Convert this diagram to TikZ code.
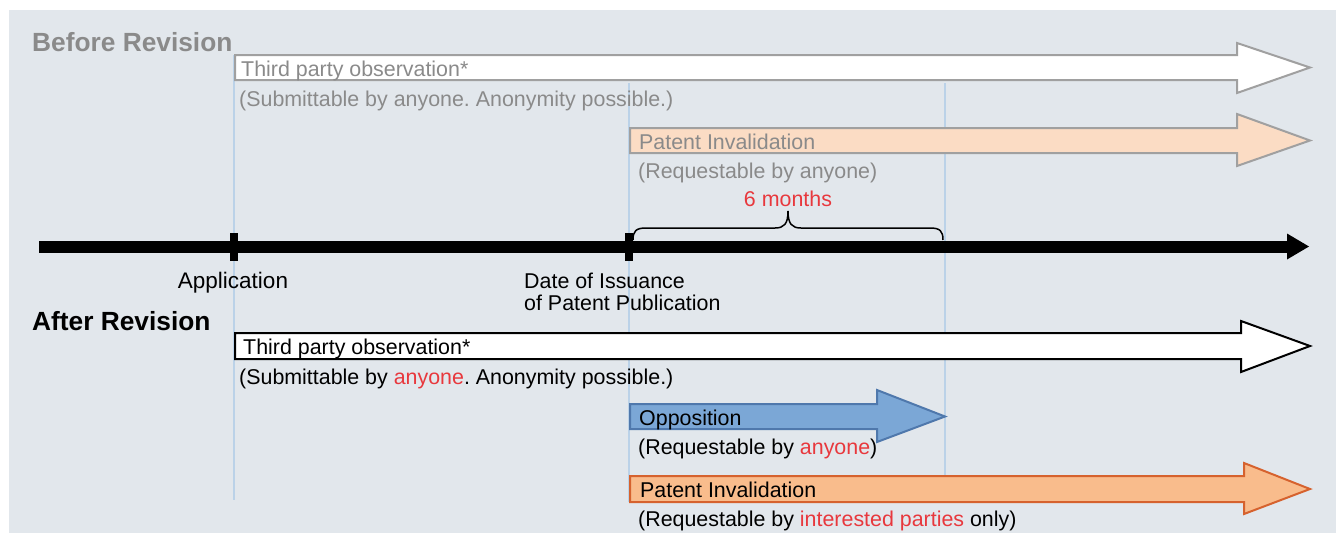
\documentclass[tikz,border=0pt]{standalone}
\usepackage{fontspec}
\setmainfont{Liberation Sans}
\frenchspacing
\definecolor{panel}{HTML}{E2E7EC}
\definecolor{vline}{HTML}{BBD2E8}
\definecolor{graytext}{HTML}{8A8A8A}
\definecolor{graystroke}{HTML}{A0A0A0}
\definecolor{peach}{HTML}{FBDCC4}
\definecolor{bluefill}{HTML}{7BA7D6}
\definecolor{bluestroke}{HTML}{4F78AC}
\definecolor{orangefill}{HTML}{F9BC8C}
\definecolor{orangestroke}{HTML}{D6622E}
\definecolor{redtext}{HTML}{E8383D}
\tikzset{
  lbl/.style={anchor=base west, inner sep=0pt, font=\fontsize{21.4}{24}\selectfont},
  head/.style={anchor=base west, inner sep=0pt, font=\fontsize{26.3}{28}\selectfont\bfseries},
  oldarrow/.style={draw=graystroke, line width=2pt, line join=miter},
  newarrow/.style={line width=2pt, line join=miter},
  guide/.style={draw=vline, line width=2pt},
}
\begin{document}
\begin{tikzpicture}[x=1pt,y=-1pt]
\useasboundingbox (0,0) rectangle (1336,533);
\fill[panel] (9,10) rectangle (1336,533);
% guide lines
\draw[guide] (234,55) -- (234,500);
\draw[guide] (629,83) -- (629,502);
\draw[guide] (945,83) -- (945,475);
% before revision
\node[head, text=graytext] (before) at (32,51) {Before Revision};
\draw[oldarrow, fill=white] (235,55) -- (1237,55) -- (1237,43) -- (1310,67.5) -- (1237,93) -- (1237,80) -- (235,80) -- cycle;
\node[lbl, text=graytext] (tpo1) at (241,76) {Third party observation*};
\node[lbl, text=graytext] (sub1) at (239,106) {(Submittable by anyone. Anonymity possible.)};
\draw[oldarrow, fill=peach] (630,128) -- (1237,128) -- (1237,114) -- (1310,140.5) -- (1237,166) -- (1237,153) -- (630,153) -- cycle;
\node[lbl, text=graytext] (pi1) at (639,149) {Patent Invalidation};
\node[lbl, text=graytext] (req1) at (638,178) {(Requestable by anyone)};
% six months brace
\node[lbl, anchor=base, text=redtext] (six) at (788,206) {6 months};
\draw[line width=1.5pt] (633,240) .. controls (633,231) and (636,228) .. (646,228) -- (775,228) .. controls (784,228) and (788,224) .. (788,211) .. controls (788,224) and (792,228) .. (801,228) -- (930,228) .. controls (940,228) and (943,231) .. (943,240);
% timeline
\coordinate (tlstart) at (39,246.5);
\coordinate (tlend) at (1288,246.5);
\draw[line width=12pt] (tlstart) -- (tlend);
\fill (1287,233.5) -- (1309,246.5) -- (1287,259.5) -- cycle;
\fill (230,233) rectangle (238,261);
\fill (625,233) rectangle (633,261);
\node[lbl, anchor=base, font=\fontsize{22.5}{24}\selectfont] (app) at (233,288) {Application};
\node[lbl] (doi) at (524,288) {Date of Issuance};
\node[lbl] (opp2) at (524,310) {of Patent Publication};
% after revision
\node[head] (after) at (32,330) {After Revision};
\draw[newarrow, draw=black, fill=white] (235,333) -- (1241,333) -- (1241,321) -- (1310,346) -- (1241,372) -- (1241,359) -- (235,359) -- cycle;
\node[lbl] (tpo2) at (243,354) {Third party observation*};
\node[lbl] (sub2) at (239,384) {(Submittable by \textcolor{redtext}{anyone}. Anonymity possible.)};
\draw[newarrow, draw=bluestroke, fill=bluefill] (630,404) -- (877,404) -- (877,390) -- (945,416.5) -- (877,442) -- (877,429) -- (630,429) -- cycle;
\node[lbl] (oppo) at (639,425) {Opposition};
\node[lbl] (req2) at (638,454) {(Requestable by \textcolor{redtext}{anyone})};
\draw[newarrow, draw=orangestroke, fill=orangefill] (630,476) -- (1244,476) -- (1244,463) -- (1310,489) -- (1244,514) -- (1244,502) -- (630,502) -- cycle;
\node[lbl] (pi2) at (640,497) {Patent Invalidation};
\node[lbl] (req3) at (638,526) {(Requestable by \textcolor{redtext}{interested parties} only)};
\end{tikzpicture}
\end{document}
